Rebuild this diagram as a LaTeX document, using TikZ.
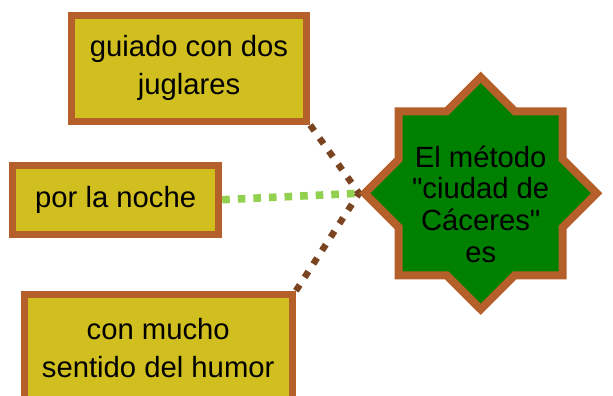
\documentclass[tikz,border=0pt]{standalone}
\usepackage{fontspec}
\setmainfont{Liberation Sans}
\usepackage{xcolor}
\usetikzlibrary{
    shapes,
    shapes.geometric,
    positioning
}

\definecolor{boxfill}{HTML}{D1BE1F}
\definecolor{rim}{HTML}{B5602A}
\definecolor{starfill}{HTML}{008000}
\definecolor{twig}{HTML}{7B4421}
\definecolor{sprout}{HTML}{92D050}

\begin{document}
\begin{tikzpicture}
      % Fix the frame of the page
      \useasboundingbox (0,0) rectangle (15.325,9.9);

      % Define node and link styles:
      \tikzset{
            idea/.style={draw=rim, fill=boxfill, line width=0.175cm, rectangle,
                  align=center, inner sep=0pt, font={\fontsize{20.8pt}{27pt}\selectfont}},
            hub/.style={star, star points=8, star point ratio=1.3066, minimum size=5.8cm,
                  inner sep=0pt, draw=rim, fill=starfill, line width=0.2cm},
            brownlink/.style={twig, line width=0.1625cm, dash pattern=on 0.175cm off 0.225cm},
            greenlink/.style={sprout, line width=0.19cm, dash pattern=on 0.19cm off 0.2cm}
      };

      % The three boxes on the left
      \node[idea, minimum width=5.885cm, minimum height=2.66cm] (guiado) at (4.725,8.19) {guiado con dos\\juglares};
      \node[idea, minimum width=5.15cm, minimum height=1.72cm] (noche) at (2.8925,4.9075) {por la noche};
      \node[idea, minimum width=6.71cm, minimum height=2.665cm] (humor) at (3.955,1.21) {con mucho\\sentido del humor};

      % The star with the main phrase (text sits a little low, size set by the star only)
      \node[hub] (metodo) at (12.0175,5.0675) {\raisebox{18.6pt}[0pt][0pt]{\makebox[0pt]{%
            \fontsize{20.8pt}{22.55pt}\selectfont
            \begin{tabular}[t]{@{}c@{}}El método\\\textquotedbl ciudad de\\Cáceres\textquotedbl\\es\end{tabular}}}};

      % Links from the boxes to the star
      \draw[greenlink] (noche.east) -- (metodo.west);
      \draw[brownlink] (guiado.south east) -- (metodo.west);
      \draw[brownlink] (humor.north east) -- (metodo.west);
\end{tikzpicture}
\end{document}
